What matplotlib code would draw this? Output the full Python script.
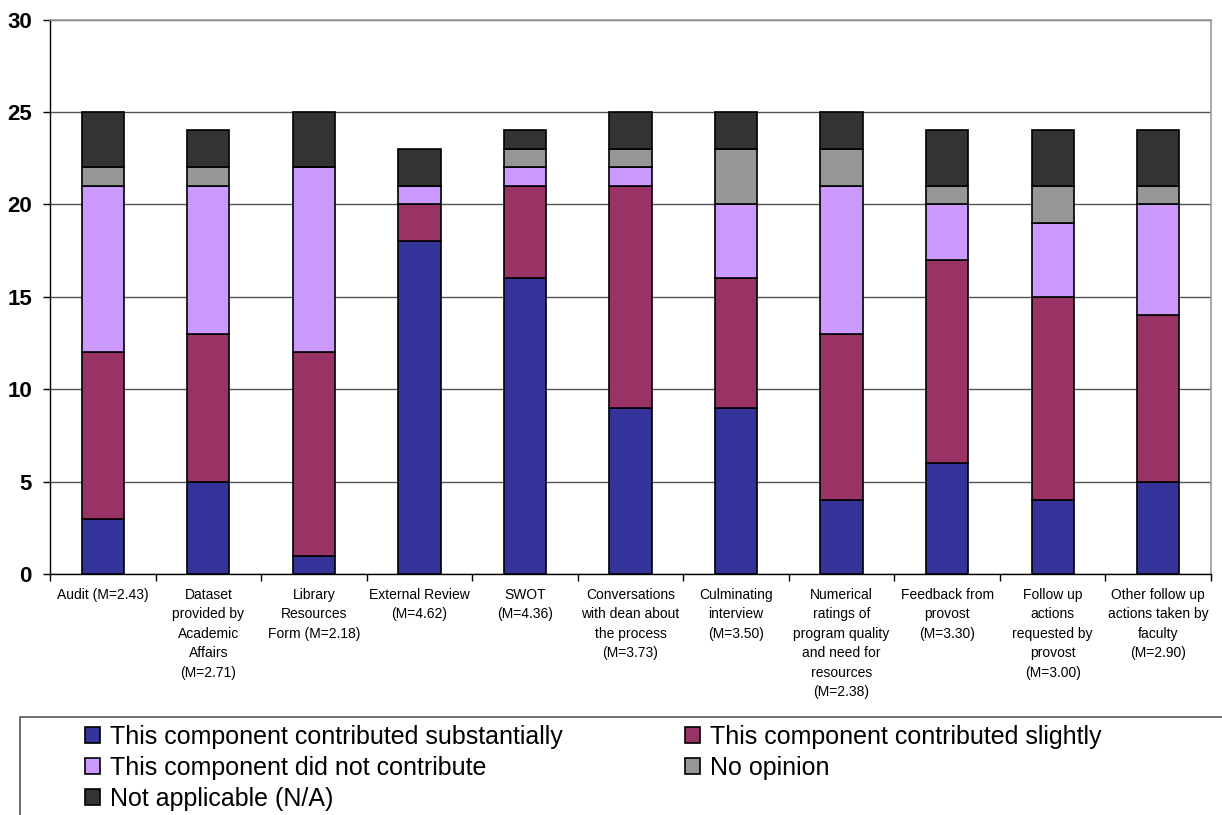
import matplotlib
matplotlib.use("Agg")
import matplotlib.pyplot as plt
import numpy as np
from matplotlib.patches import Rectangle

plt.rcParams['font.family'] = ['Liberation Sans', 'DejaVu Sans']

categories = [
    "Audit (M=2.43)",
    "Dataset\nprovided by\nAcademic\nAffairs\n(M=2.71)",
    "Library\nResources\nForm (M=2.18)",
    "External Review\n(M=4.62)",
    "SWOT\n(M=4.36)",
    "Conversations\nwith dean about\nthe process\n(M=3.73)",
    "Culminating\ninterview\n(M=3.50)",
    "Numerical\nratings of\nprogram quality\nand need for\nresources\n(M=2.38)",
    "Feedback from\nprovost\n(M=3.30)",
    "Follow up\nactions\nrequested by\nprovost\n(M=3.00)",
    "Other follow up\nactions taken by\nfaculty\n(M=2.90)",
]

substantially = [3, 5, 1, 18, 16, 9, 9, 4, 6, 4, 5]
slightly      = [9, 8, 11, 2, 5, 12, 7, 9, 11, 11, 9]
did_not       = [9, 8, 10, 1, 1, 1, 4, 8, 3, 4, 6]
no_opinion    = [1, 1, 0, 0, 1, 1, 3, 2, 1, 2, 1]
not_applic    = [3, 2, 3, 2, 1, 2, 2, 2, 3, 3, 3]

series_names = [
    "This component contributed substantially",
    "This component contributed slightly",
    "This component did not contribute",
    "No opinion",
    "Not applicable (N/A)",
]
series = [substantially, slightly, did_not, no_opinion, not_applic]
colors = ["#333399", "#993366", "#CC99FF", "#969696", "#333333"]

W, H = 1222, 815
fig = plt.figure(figsize=(W / 100, H / 100), dpi=100)
ax = fig.add_axes([50 / W, 1 - 574 / H, (1211 - 50) / W, (574 - 19.5) / H])

x = np.arange(len(categories))
bottom = np.zeros(len(categories))
handles = []
for vals, col, name in zip(series, colors, series_names):
    v = np.array(vals, dtype=float)
    b = ax.bar(x, v, width=0.4, bottom=bottom, color=col, edgecolor="black",
               linewidth=1.2, label=name, zorder=3)
    handles.append(b)
    bottom += v

ax.set_xlim(-0.5, len(categories) - 0.5)
ax.set_ylim(0, 30)
ax.set_yticks(np.arange(0, 31, 5))
ax.yaxis.grid(True, color="#555555", linewidth=1.0, zorder=0)
ax.set_axisbelow(True)

for lab in ax.get_yticklabels():
    lab.set_fontweight("bold")
ax.tick_params(axis="y", labelsize=16, length=5, width=1, direction="out", pad=8)

ax.set_xticks(x)
ax.set_xticklabels(categories, fontsize=10, linespacing=1.5, va="top")
ax.tick_params(axis="x", length=0, pad=10)
ax.set_xticks(np.arange(-0.5, len(categories), 1.0), minor=True)
ax.tick_params(axis="x", which="minor", length=5, width=1, direction="out")

for s in ["left", "bottom"]:
    ax.spines[s].set_color("black")
    ax.spines[s].set_linewidth(1.0)
for s in ["top", "right"]:
    ax.spines[s].set_color("#999999")
    ax.spines[s].set_linewidth(1.2)

# legend frame
fig.patches.append(Rectangle((20 / W, -0.01), 1.02, 0.01 + (1 - 717 / H),
                             transform=fig.transFigure, fill=False,
                             edgecolor="#555555", linewidth=1.2))

order = [0, 2, 4, 1, 3]
leg = fig.legend([handles[i] for i in order], [series_names[i] for i in order],
                 ncol=2, loc="upper left", bbox_to_anchor=(85 / W, 1 - 725 / H),
                 frameon=False, fontsize=18, handlelength=0.6, handleheight=0.6,
                 handletextpad=0.4, columnspacing=4.9, labelspacing=0.28,
                 borderpad=0, borderaxespad=0)

fig.savefig("out.png", dpi=100)
